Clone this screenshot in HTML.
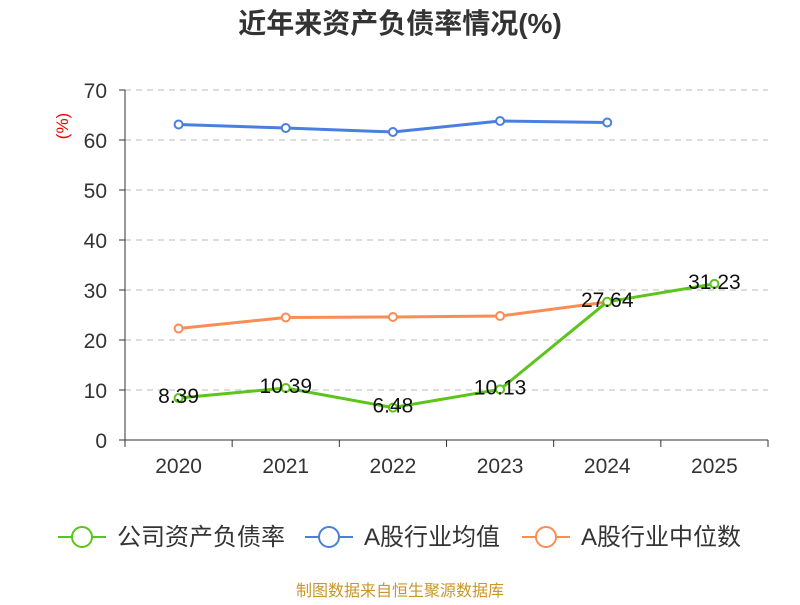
<!DOCTYPE html>
<html><head><meta charset="utf-8"><style>
body{margin:0;background:#fff;}
svg text{font-family:"Liberation Sans","Noto Sans CJK SC",sans-serif;}
</style></head><body>
<svg width="800" height="600" xmlns="http://www.w3.org/2000/svg">
<text x="400" y="33" text-anchor="middle" font-size="28" font-weight="bold" fill="#333">近年来资产负债率情况(%)</text>
<text transform="translate(68,126) rotate(-90)" text-anchor="middle" font-size="17" fill="#e00">(%)</text>
<g id="grid"></g><g id="axes"></g><g id="series"></g>
<g id="legend"></g>
<text x="400" y="596" text-anchor="middle" font-size="16" fill="#c8962a">制图数据来自恒生聚源数据库</text>
</svg>
<script>
const categories=["2020","2021","2022","2023","2024","2025"];
const companyValues=[8.39,10.39,6.48,10.13,27.64,31.23];
const industryAvg=[63.1,62.4,61.6,63.8,63.5,null];
const industryMedian=[22.3,24.5,24.6,24.8,27.6,null];
const yTicks=[0,10,20,30,40,50,60,70];
const NS="http://www.w3.org/2000/svg";
const x0=125,x1=768,y0=440,yTop=90,yMax=70;
const bw=(x1-x0)/categories.length;
const xs=i=>x0+bw*(i+0.5);
const ys=v=>y0-(v/yMax)*(y0-yTop);
function mk(tag,attrs,parent){const e=document.createElementNS(NS,tag);for(const k in attrs)e.setAttribute(k,attrs[k]);document.getElementById(parent).appendChild(e);return e;}
yTicks.forEach(t=>{
 if(t>0){const g=mk("line",{x1:x0,x2:x1,y1:ys(t),y2:ys(t),stroke:"#bbb","stroke-dasharray":"6,5"},"grid");
 
 }
 const tk=mk("line",{x1:x0-6,x2:x0,y1:ys(t),y2:ys(t),stroke:"#333"},"axes");
 
 
 const l=mk("text",{x:x0-18,y:ys(t)+8,"text-anchor":"end","font-size":"21",fill:"#333"},"axes");l.textContent=t;
 
 
});
const ya=mk("line",{x1:x0,x2:x0,y1:yTop,y2:y0,stroke:"#333"},"axes");


const xa=mk("line",{x1:x0,x2:x1,y1:y0,y2:y0,stroke:"#333"},"axes");


for(let i=0;i<=categories.length;i++){const t=mk("line",{x1:x0+bw*i,x2:x0+bw*i,y1:y0,y2:y0+7,stroke:"#333"},"axes");
 
 }
categories.forEach((c,i)=>{const l=mk("text",{x:xs(i),y:y0+33,"text-anchor":"middle","font-size":"21",fill:"#333"},"axes");l.textContent=c;
 
 });
function series(vals,color,name,labels){
 const pts=vals.map((v,i)=>v==null?null:[xs(i),ys(v)]).filter(p=>p);
 const p=mk("polyline",{points:pts.map(p=>p.join(",")).join(" "),fill:"none",stroke:color,"stroke-width":3},"series");
 
 
 vals.forEach((v,i)=>{if(v==null)return;
  const c=mk("circle",{cx:xs(i),cy:ys(v),r:4,fill:"#fff",stroke:color,"stroke-width":2},"series");
  
  
  if(labels){const t=mk("text",{x:xs(i),y:ys(v)+5,"text-anchor":"middle","font-size":"21",fill:"#111"},"series");t.textContent=v.toFixed(2);
  
  }
 });
}
series(industryAvg,"#4a7fe0","industry-average",false);
series(industryMedian,"#fa8c55","industry-median",false);
series(companyValues,"#5cc41a","company",true);
const leg=[["公司资产负债率","#5cc41a",58],["A股行业均值","#4a7fe0",305],["A股行业中位数","#fa8c55",522]];
leg.forEach(([n,c,x])=>{
 const l=mk("line",{x1:x,x2:x+48,y1:537,y2:537,stroke:c,"stroke-width":2},"legend");
 
 
 const ci=mk("circle",{cx:x+24,cy:537,r:10,fill:"#fff",stroke:c,"stroke-width":2},"legend");
 
 
 const t=mk("text",{x:x+59,y:545,"font-size":"24",fill:"#333"},"legend");t.textContent=n;
 
 
});
</script>
</body></html>
